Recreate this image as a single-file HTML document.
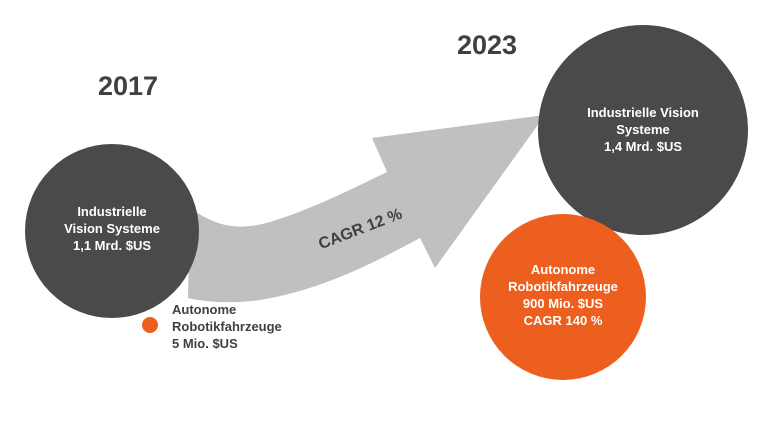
<!DOCTYPE html>
<html><head><style>
body{margin:0;width:760px;height:427px;background:#fff;overflow:hidden;font-family:"Liberation Sans",sans-serif}
</style></head><body>
<svg width="760" height="427" viewBox="0 0 760 427" xmlns="http://www.w3.org/2000/svg" font-family="Liberation Sans, sans-serif" font-weight="bold">
<path d="M190 208 C215 225 235 232 270 222 C310 210 350 190 387 172 L372 138 L545 115 L435 268 L420 238 C370 265 320 290 260 300 C230 304 205 302 188 298 Z" fill="#c0c0c0"/>
<circle cx="112" cy="231" r="87" fill="#4a4a4a"/>
<circle cx="643" cy="130" r="105" fill="#4a4a4a"/>
<circle cx="563" cy="297" r="83" fill="#ed5f1e"/>
<circle cx="150" cy="325" r="8" fill="#ed5f1e"/>
<text x="128" y="95" font-size="27" fill="#404040" text-anchor="middle">2017</text>
<text x="487" y="54" font-size="27" fill="#404040" text-anchor="middle">2023</text>
<g fill="#fff" font-size="13" text-anchor="middle">
<text x="112" y="216">Industrielle</text>
<text x="112" y="233">Vision Systeme</text>
<text x="112" y="250">1,1 Mrd. $US</text>
<text x="643" y="117">Industrielle Vision</text>
<text x="643" y="134">Systeme</text>
<text x="643" y="151">1,4 Mrd. $US</text>
<text x="563" y="274">Autonome</text>
<text x="563" y="291">Robotikfahrzeuge</text>
<text x="563" y="308">900 Mio. $US</text>
<text x="563" y="325">CAGR 140 %</text>
</g>
<g fill="#404040" font-size="13">
<text x="172" y="314">Autonome</text>
<text x="172" y="331">Robotikfahrzeuge</text>
<text x="172" y="348">5 Mio. $US</text>
</g>
<text x="360" y="234" font-size="16" fill="#404040" text-anchor="middle" transform="rotate(-21 360 228)">CAGR 12 %</text>
</svg>
</body></html>
